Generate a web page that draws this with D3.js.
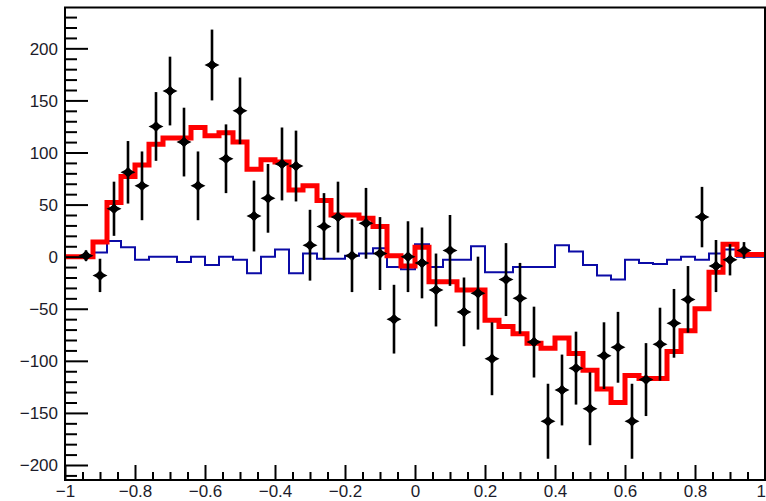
<!DOCTYPE html>
<html>
<head>
<meta charset="utf-8">
<script src="https://cdn.jsdelivr.net/npm/d3@7"></script>
<style>
  html, body { margin: 0; padding: 0; background: #ffffff; }
  svg { display: block; }
  .tick text { font-family: "Liberation Sans", Arial, Helvetica, sans-serif; }
</style>
</head>
<body>
<svg id="chart" width="766" height="501"></svg>
<script>
// Histogram definition: 50 bins on [-1, 1]
const xMin = -1, xMax = 1, nBins = 50;

// Fitted model (red), per bin
const fitValues = [
  0, 0, 14, 52, 77, 88, 108, 114, 114, 124,
  116, 119, 110, 84, 93, 91, 64, 68, 54, 40,
  40, 37, 29, 1, -9, 9, -24, -24, -32, -32,
  -61, -67, -74, -83, -88, -78, -93, -109, -127, -140,
  -114, -117, -117, -91, -71, -50, -15, 12, 2, 2
];

// Background component (blue), per bin
const bkgValues = [
  0, 0, 4, 15, 9, -3, 0, 0, -5, 0,
  -8, 0, -3, -16, 0, 7, -16, 3, -2, -2,
  1, 3, 8, -10, -12, 12, -10, -3, -3, 10,
  -15, -15, -10, -10, -10, 11, 5, -8, -18, -22,
  -3, -6, -7, -3, 0, -3, 3, 7, 0, 0
];

// Measured points (null = empty bin) and their errors
const dataValues = [
  null, 1, -18, 46, 81, 68, 125, 159, 110, 68,
  184, 94, 140, 39, 56, 89, 87, 11, 29, 38,
  1, 32, 3, -60, 0, -6, -32, 6, -53, -35,
  -98, -22, -40, -82, -158, -128, -107, -146, -95, -87,
  -158, -118, -84, -64, -41, 38, -9, -3, 6, null
];
const dataErrors = [
  0, 5, 16, 26, 30, 33, 33, 33, 33, 33,
  34, 33, 32, 34, 33, 35, 34, 34, 32, 34,
  35, 34, 35, 33, 34, 34, 35, 34, 33, 35,
  35, 35, 34, 34, 36, 34, 35, 35, 32, 34,
  36, 35, 35, 33, 32, 29, 25, 15, 8, 0
];

// Axis ticks
const xMajorTicks = [-1, -0.8, -0.6, -0.4, -0.2, 0, 0.2, 0.4, 0.6, 0.8, 1];
const yMajorTicks = [-200, -150, -100, -50, 0, 50, 100, 150, 200];
const yRange = [-214.4, 239.2];

const svg = d3.select("#chart");
const frame = { left: 65, right: 765, top: 7.5, bottom: 480 };

const x = d3.scaleLinear().domain([xMin, xMax]).range([frame.left, frame.right]);
const y = d3.scaleLinear().domain(yRange).range([frame.bottom, frame.top]);

const binWidth = (xMax - xMin) / nBins;
const edges = d3.range(nBins + 1).map(i => xMin + i * binWidth);
const centers = d3.range(nBins).map(i => xMin + (i + 0.5) * binWidth);

// Minor tick positions
const xMinorTicks = d3.range(0, 41).map(i => xMin + i * 0.05).filter(v => !xMajorTicks.some(m => Math.abs(m - v) < 1e-9));
const yMinorTicks = d3.range(-210, 240, 10).filter(v => v % 50 !== 0);

const fmtY = v => (v < 0 ? "\u2212" + Math.abs(v) : String(v));
const fmtX = v => {
  const s = String(Math.round(v * 10) / 10);
  return s.startsWith("-") ? "\u2212" + s.slice(1) : s;
};

// Step-line generator for histograms
const stepLine = d3.line()
  .x(d => x(d[0]))
  .y(d => y(d[1]))
  .curve(d3.curveStepAfter);

function histPoints(values) {
  const pts = values.map((v, i) => [edges[i], v]);
  pts.push([edges[nBins], values[nBins - 1]]);
  return pts;
}

// Background histogram
svg.append("path")
  .attr("d", stepLine(histPoints(bkgValues)))
  .attr("fill", "none")
  .attr("stroke", "#0b0ba6")
  .attr("stroke-width", 2);

// Fit histogram
svg.append("path")
  .attr("d", stepLine(histPoints(fitValues)))
  .attr("fill", "none")
  .attr("stroke", "#ff0000")
  .attr("stroke-width", 5)
  .attr("stroke-linejoin", "miter");

// Data points with error bars
const pts = centers.map((c, i) => ({ c, v: dataValues[i], e: dataErrors[i] })).filter(d => d.v !== null);
const gPts = svg.append("g");
gPts.selectAll("line.err")
  .data(pts)
  .join("line")
  .attr("class", "err")
  .attr("x1", d => x(d.c)).attr("x2", d => x(d.c))
  .attr("y1", d => y(d.v - d.e)).attr("y2", d => y(d.v + d.e))
  .attr("stroke", "#000")
  .attr("stroke-width", 2.6);

const markerPath = "M-7.5,0 L-2.5,-2.5 L0,-6 L2.5,-2.5 L7.5,0 L2.5,2.5 L0,6 L-2.5,2.5 Z";
gPts.selectAll("path.mk")
  .data(pts)
  .join("path")
  .attr("class", "mk")
  .attr("d", markerPath)
  .attr("transform", d => `translate(${x(d.c)},${y(d.v)})`)
  .attr("fill", "#000");
gPts.selectAll("circle.mk")
  .data(pts)
  .join("circle")
  .attr("class", "mk")
  .attr("cx", d => x(d.c)).attr("cy", d => y(d.v))
  .attr("r", 3.6)
  .attr("fill", "#000");

// Frame
svg.append("rect")
  .attr("x", frame.left).attr("y", frame.top)
  .attr("width", frame.right - frame.left)
  .attr("height", frame.bottom - frame.top)
  .attr("fill", "none")
  .attr("stroke", "#000")
  .attr("stroke-width", 2);

// X axis: major ticks + labels, minor ticks
const xAxis = d3.axisBottom(x).tickValues(xMajorTicks).tickSize(-15).tickPadding(20).tickFormat(fmtX);
const gx = svg.append("g").attr("transform", `translate(0,${frame.bottom})`).call(xAxis);
const xMinorAxis = d3.axisBottom(x).tickValues(xMinorTicks).tickSize(-8).tickFormat("");
const gxm = svg.append("g").attr("transform", `translate(0,${frame.bottom})`).call(xMinorAxis);

// Y axis: major ticks + labels, minor ticks
const yAxis = d3.axisLeft(y).tickValues(yMajorTicks).tickSize(-23).tickPadding(30).tickFormat(fmtY);
const gy = svg.append("g").attr("transform", `translate(${frame.left},0)`).call(yAxis);
const yMinorAxis = d3.axisLeft(y).tickValues(yMinorTicks).tickSize(-12).tickFormat("");
const gym = svg.append("g").attr("transform", `translate(${frame.left},0)`).call(yMinorAxis);

[gx, gxm, gy, gym].forEach(g => {
  g.select(".domain").remove();
  g.selectAll(".tick line").attr("stroke", "#000").attr("stroke-width", 2);
});
gx.selectAll(".tick text")
  .attr("font-size", 17).attr("fill", "#1c1c2a")
  .attr("dy", null)
  .attr("dominant-baseline", "alphabetic")
  .attr("y", 17);
// The last label sits at the window edge: keep it inside the view
gx.selectAll(".tick text")
  .filter(d => d === xMax)
  .attr("text-anchor", "end")
  .attr("x", 0.5);
gy.selectAll(".tick text")
  .attr("font-size", 17).attr("fill", "#1c1c2a")
  .attr("x", -7)
  .attr("dy", "0.35em");
</script>
</body>
</html>
